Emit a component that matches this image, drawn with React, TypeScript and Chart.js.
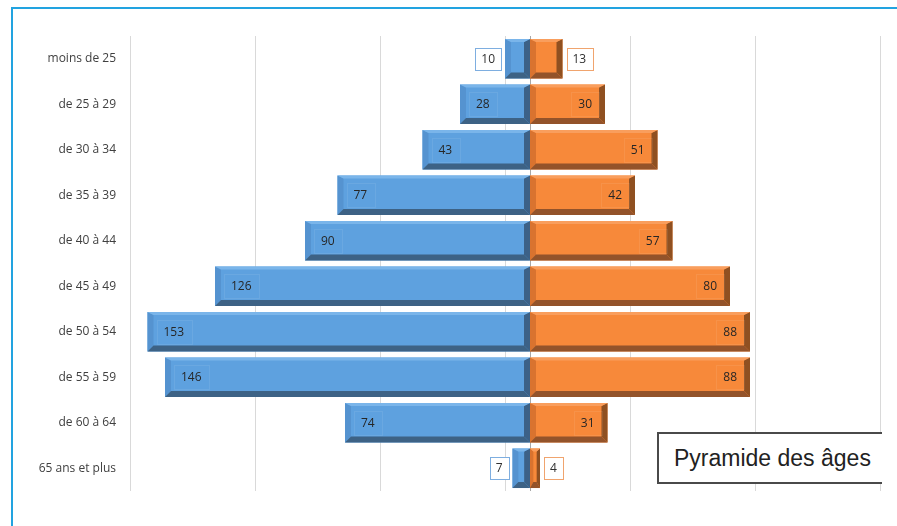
import React, { useEffect, useRef } from "react";
import { Chart, registerables } from "chart.js";

Chart.register(...registerables);

const categories = [
  "moins de 25",
  "de 25 à 29",
  "de 30 à 34",
  "de 35 à 39",
  "de 40 à 44",
  "de 45 à 49",
  "de 50 à 54",
  "de 55 à 59",
  "de 60 à 64",
  "65 ans et plus",
];
const leftValues = [10, 28, 43, 77, 90, 126, 153, 146, 74, 7];
const rightValues = [13, 30, 51, 42, 57, 80, 88, 88, 31, 4];
const axisMin = -160;
const axisMax = 140;
const axisStep = 50;
const titleText = "Pyramide des âges";

const palettes = [
  { face: "#5ea1df", top: "#7ab5ea", left: "#5593d0", right: "#3c6187", bottom: "#3d6285", outBorder: "#7eaee0" },
  { face: "#f7893a", top: "#f99e5d", left: "#d9732f", right: "#8f5021", bottom: "#93532a", outBorder: "#f0a46e" },
];

function poly(ctx: CanvasRenderingContext2D, pts: number[][], color: string) {
  ctx.beginPath();
  ctx.moveTo(pts[0][0], pts[0][1]);
  for (let i = 1; i < pts.length; i++) ctx.lineTo(pts[i][0], pts[i][1]);
  ctx.closePath();
  ctx.fillStyle = color;
  ctx.fill();
}

const bevelPlugin = {
  id: "bevelPlugin",
  beforeDatasetsDraw(chart: any) {
    const { ctx, chartArea, scales } = chart;
    const x0 = Math.round(scales.x.getPixelForValue(0)) + 0.5;
    ctx.save();
    ctx.strokeStyle = "#a8a8a8";
    ctx.lineWidth = 1;
    ctx.beginPath();
    ctx.moveTo(x0, chartArea.top);
    ctx.lineTo(x0, chartArea.bottom);
    ctx.stroke();
    ctx.restore();
  },
  afterDatasetsDraw(chart: any) {
    const ctx: CanvasRenderingContext2D = chart.ctx;
    ctx.save();
    chart.data.datasets.forEach((ds: any, di: number) => {
      const meta = chart.getDatasetMeta(di);
      const pal = palettes[di];
      meta.data.forEach((el: any, i: number) => {
        const { x, y, base, height } = el.getProps(["x", "y", "base", "height"], true);
        const l = Math.min(x, base);
        const r = Math.max(x, base);
        const t = y - height / 2;
        const b = y + height / 2;
        const w = r - l;
        const sl = Math.min(6, w / 3);
        const sr = Math.min(6, w / 3);
        const st = 3;
        const sb = 6;
        const il = l + sl, ir = r - sr, it = t + st, ib = b - sb;
        poly(ctx, [[l, t], [il, it], [il, ib], [l, b]], pal.left);
        poly(ctx, [[r, t], [ir, it], [ir, ib], [r, b]], pal.right);
        poly(ctx, [[l, t], [r, t], [ir, it], [il, it]], pal.top);
        poly(ctx, [[l, b], [r, b], [ir, ib], [il, ib]], pal.bottom);

        // data label
        const val = Math.abs(ds.data[i]);
        const text = String(val);
        ctx.font = "12px 'Open Sans'";
        ctx.textBaseline = "middle";
        const tw = ctx.measureText(text).width;
        if (w < tw + 30) {
          const bw = tw + 12;
          const bh = 22;
          const bx = di === 0 ? l - 4 - bw : r + 4;
          const by = y - bh / 2;
          ctx.fillStyle = "#ffffff";
          ctx.fillRect(bx, by, bw, bh);
          ctx.strokeStyle = pal.outBorder;
          ctx.lineWidth = 1;
          ctx.strokeRect(Math.round(bx) + 0.5, Math.round(by) + 0.5, Math.round(bw), Math.round(bh));
          ctx.fillStyle = "#303030";
          ctx.textAlign = "center";
          ctx.fillText(text, bx + bw / 2, y + 0.5);
        } else {
          let bx: number, tx: number;
          const bw = tw + 14;
          if (di === 0) {
            tx = l + 16;
            bx = tx - 7;
            ctx.textAlign = "left";
          } else {
            tx = r - 13;
            bx = tx - tw - 7;
            ctx.textAlign = "right";
          }
          ctx.strokeStyle = "rgba(255,255,255,0.08)";
          ctx.lineWidth = 1;
          ctx.strokeRect(Math.round(bx) + 0.5, Math.round(y - 12) + 0.5, Math.round(bw), 24);
          ctx.fillStyle = "#262626";
          ctx.fillText(text, tx, y + 0.5);
        }
      });
    });
    ctx.restore();
  },
};

export default function App() {
  const canvasRef = useRef<HTMLCanvasElement | null>(null);

  useEffect(() => {
    if (!canvasRef.current) return;
    const chart = new Chart(canvasRef.current, {
      type: "bar",
      data: {
        labels: categories,
        datasets: [
          {
            label: "Hommes",
            data: leftValues.map((v) => -v),
            backgroundColor: palettes[0].face,
            borderWidth: 0,
            barPercentage: 0.87,
            categoryPercentage: 1,
          },
          {
            label: "Femmes",
            data: rightValues,
            backgroundColor: palettes[1].face,
            borderWidth: 0,
            barPercentage: 0.87,
            categoryPercentage: 1,
          },
        ],
      },
      options: {
        indexAxis: "y",
        responsive: false,
        animation: false,
        devicePixelRatio: 1,
        layout: { padding: { top: 27, right: 2, bottom: 35, left: 0 } },
        plugins: {
          legend: { display: false },
          tooltip: { enabled: false },
        },
        scales: {
          x: {
            stacked: true,
            min: axisMin,
            max: axisMax,
            ticks: { display: false, stepSize: axisStep },
            grid: { color: "#d9d9d9", lineWidth: 1, drawTicks: false },
            border: { display: false },
            afterFit: (s: any) => {
              s.height = 0;
            },
          },
          y: {
            stacked: true,
            grid: { display: false, drawTicks: false },
            border: { display: false },
            ticks: {
              padding: 14,
              color: "#404040",
              font: { family: "'Open Sans'", size: 12 },
            },
            afterFit: (s: any) => {
              s.width = 116;
            },
          },
        },
      } as any,
      plugins: [bevelPlugin],
    });
    return () => chart.destroy();
  }, []);

  return (
    <div
      style={{
        position: "fixed",
        left: 0,
        top: 0,
        width: 897,
        height: 526,
        overflow: "hidden",
        background: "#ffffff",
      }}
    >
      <div
        style={{
          position: "absolute",
          left: 11,
          top: 7,
          width: 1000,
          height: 1000,
          border: "2px solid #22a3e0",
        }}
      />
      <div
        style={{
          position: "absolute",
          left: 14,
          top: 9,
          width: 868,
          height: 517,
          overflow: "hidden",
        }}
      >
        <canvas ref={canvasRef} width={868} height={517} style={{ display: "block" }} />
        <div
          style={{
            position: "absolute",
            left: 643,
            top: 423,
            width: 260,
            height: 52,
            boxSizing: "border-box",
            border: "2px solid #4a4a4a",
            background: "#ffffff",
            paddingLeft: 15,
            display: "flex",
            alignItems: "center",
            fontFamily: "'Liberation Sans', Arial, sans-serif",
            fontSize: 23,
            color: "#222222",
            whiteSpace: "nowrap",
          }}
        >
          {titleText}
        </div>
      </div>
    </div>
  );
}
